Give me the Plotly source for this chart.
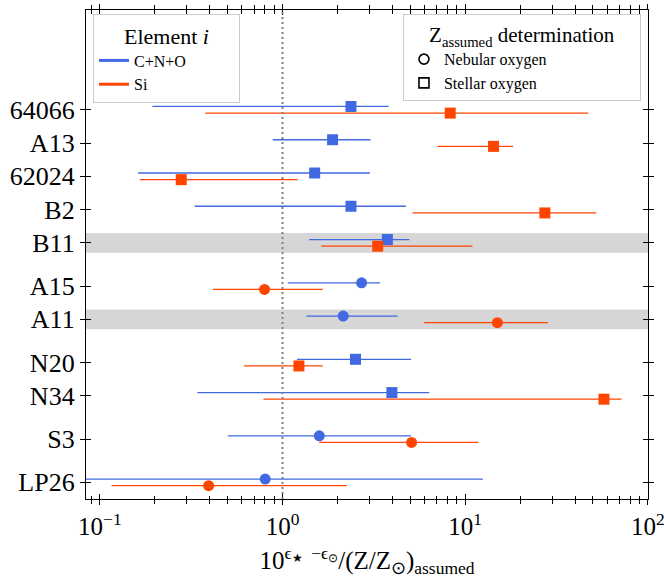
import numpy as np
import plotly.graph_objects as go

# ---------------- data ----------------
stars = ["64066", "A13", "62024", "B2", "B11", "A15", "A11", "N20", "N34", "S3", "LP26"]
ypos = [0, 1, 2, 3, 4, 5.3, 6.3, 7.6, 8.6, 9.9, 11.2]
method = ["stellar", "stellar", "stellar", "stellar", "stellar",
          "nebular", "nebular", "stellar", "stellar", "nebular", "nebular"]
shaded = ["B11", "A11"]

cno = [2.37, 1.88, 1.50, 2.37, 3.75, 2.71, 2.15, 2.51, 3.97, 1.59, 0.804]
cno_lo = [0.194, 0.885, 0.162, 0.330, 1.40, 1.07, 1.35, 1.20, 0.342, 0.502, 0.05]
cno_hi = [3.81, 3.03, 3.01, 4.74, 4.94, 3.42, 4.27, 5.05, 6.36, 5.05, 12.5]

si = [8.28, 14.3, 0.279, 27.3, 3.32, 0.797, 15.0, 1.23, 57.5, 5.09, 0.394]
si_lo = [0.378, 7.06, 0.166, 5.15, 1.63, 0.416, 5.97, 0.615, 0.787, 1.59, 0.116]
si_hi = [47.2, 18.3, 1.21, 52.2, 10.96, 1.66, 28.4, 1.66, 71.8, 11.8, 2.25]

x_ticks = [0.1, 1, 10, 100]
x_ticktext = ["10<sup>\u22121</sup>", "10<sup>0</sup>", "10<sup>1</sup>", "10<sup>2</sup>"]
x_minor = [m * 10.0 ** e for e in (-2, -1, 0, 1) for m in range(2, 10)]
x_range = [np.log10(0.084), 2.0008]
y_range = [11.7, -3.0]

BLUE = "#4169E1"
ORANGE = "#FF4500"
FONT = "Liberation Serif"


def f(size):
    return dict(family=FONT, size=size, color="black")


sym = ["square" if m == "stellar" else "circle" for m in method]
NB = "\u00a0"

fig = go.Figure()

for vals, lo, hi, col, off in [(cno, cno_lo, cno_hi, BLUE, -0.1),
                                (si, si_lo, si_hi, ORANGE, 0.1)]:
    fig.add_trace(go.Scatter(
        x=vals, y=[p + off for p in ypos], mode="markers",
        marker=dict(symbol=sym, size=11, color=col, line=dict(width=0)),
        error_x=dict(type="data", symmetric=False,
                     array=[h - v for h, v in zip(hi, vals)],
                     arrayminus=[v - l for v, l in zip(vals, lo)],
                     color=col, thickness=1.3, width=0),
        showlegend=False, hoverinfo="x+y"))

# legend entries
fig.add_trace(go.Scatter(x=[None], y=[None], mode="lines", name="C+N+O" + NB * 12,
                         line=dict(color=BLUE, width=3), legend="legend"))
fig.add_trace(go.Scatter(x=[None], y=[None], mode="lines", name="Si",
                         line=dict(color=ORANGE, width=3), legend="legend"))
fig.add_trace(go.Scatter(x=[None], y=[None], mode="markers", name="Nebular oxygen" + NB * 22,
                         marker=dict(symbol="circle-open", size=10, color="black",
                                     line=dict(width=1.6, color="black")),
                         legend="legend2"))
fig.add_trace(go.Scatter(x=[None], y=[None], mode="markers", name="Stellar oxygen",
                         marker=dict(symbol="square-open", size=10, color="black",
                                     line=dict(width=1.6, color="black")),
                         legend="legend2"))

# dummy trace for the overlay axes (inward ticks)
fig.add_trace(go.Scatter(x=[1], y=[0], xaxis="x2", yaxis="y2", mode="markers",
                         marker=dict(opacity=0), showlegend=False, hoverinfo="skip"))

shapes = []
for s in shaded:
    p = ypos[stars.index(s)]
    shapes.append(dict(type="rect", xref="paper", yref="y", x0=0, x1=1,
                       y0=p - 0.3, y1=p + 0.3, fillcolor="#d6d6d6",
                       line=dict(width=0), layer="below"))
shapes.append(dict(type="line", xref="x", yref="paper", x0=1, x1=1, y0=0, y1=1,
                   line=dict(color="#808080", width=2, dash="2px,3px"), layer="above"))

title_txt = ("10<sup>\u03f5<sub>\u2605</sub>  \u2212\u03f5<sub>\u2299</sub></sup>"
             "/(Z/Z<sub>\u2299</sub>)<sub>assumed</sub>")

axis_common = dict(showgrid=False, zeroline=False, automargin=False)
fig.update_layout(
    width=664, height=585,
    margin=dict(l=86, r=16, t=10, b=86, autoexpand=False),
    paper_bgcolor="white", plot_bgcolor="white",
    font=f(26),
    shapes=shapes,
    xaxis=dict(type="log", range=x_range, tickmode="array", tickvals=x_ticks,
               ticktext=x_ticktext, ticks="outside", ticklen=5, tickwidth=1,
               tickcolor="black", showline=True, linecolor="black", linewidth=1.3,
               mirror="allticks", ticklabeloverflow="allow",
               minor=dict(tickmode="array", tickvals=x_minor, ticks="outside",
                          ticklen=3.5, tickwidth=1, tickcolor="black", showgrid=False),
               title=dict(text=title_txt, font=f(25), standoff=12),
               tickfont=f(25), **axis_common),
    yaxis=dict(range=y_range, tickmode="array", tickvals=ypos, ticktext=stars,
               ticks="outside", ticklen=5, tickwidth=1, tickcolor="black",
               showline=True, linecolor="black", linewidth=1.3, mirror="allticks",
               tickfont=f(26), **axis_common),
    xaxis2=dict(type="log", range=x_range, overlaying="x", anchor="y2",
                tickmode="array", tickvals=x_ticks, ticks="inside", ticklen=5,
                tickwidth=1, tickcolor="black", showticklabels=False, showline=False,
                mirror="allticks",
                minor=dict(tickmode="array", tickvals=x_minor, ticks="inside",
                           ticklen=3.5, tickwidth=1, tickcolor="black", showgrid=False),
                **axis_common),
    yaxis2=dict(range=y_range, overlaying="y", anchor="x2", tickmode="array",
                tickvals=ypos, ticks="inside", ticklen=5, tickwidth=1,
                tickcolor="black", showticklabels=False, showline=False,
                mirror="allticks", **axis_common),
    legend=dict(x=0.0125, y=0.992, xanchor="left", yanchor="top",
                bgcolor="rgba(255,255,255,0.85)", bordercolor="#cccccc", borderwidth=1,
                font=f(16), title=dict(text="Element <i>i</i>", side="top center",
                                       font=f(22)),
                itemwidth=30, tracegroupgap=0),
    legend2=dict(x=0.9875, y=0.992, xanchor="right", yanchor="top",
                 bgcolor="rgba(255,255,255,0.85)", bordercolor="#cccccc", borderwidth=1,
                 font=f(16),
                 title=dict(text="Z<sub>assumed</sub> determination", side="top center",
                            font=f(21)),
                 itemwidth=30, tracegroupgap=0),
)

fig.write_html("out.html")
